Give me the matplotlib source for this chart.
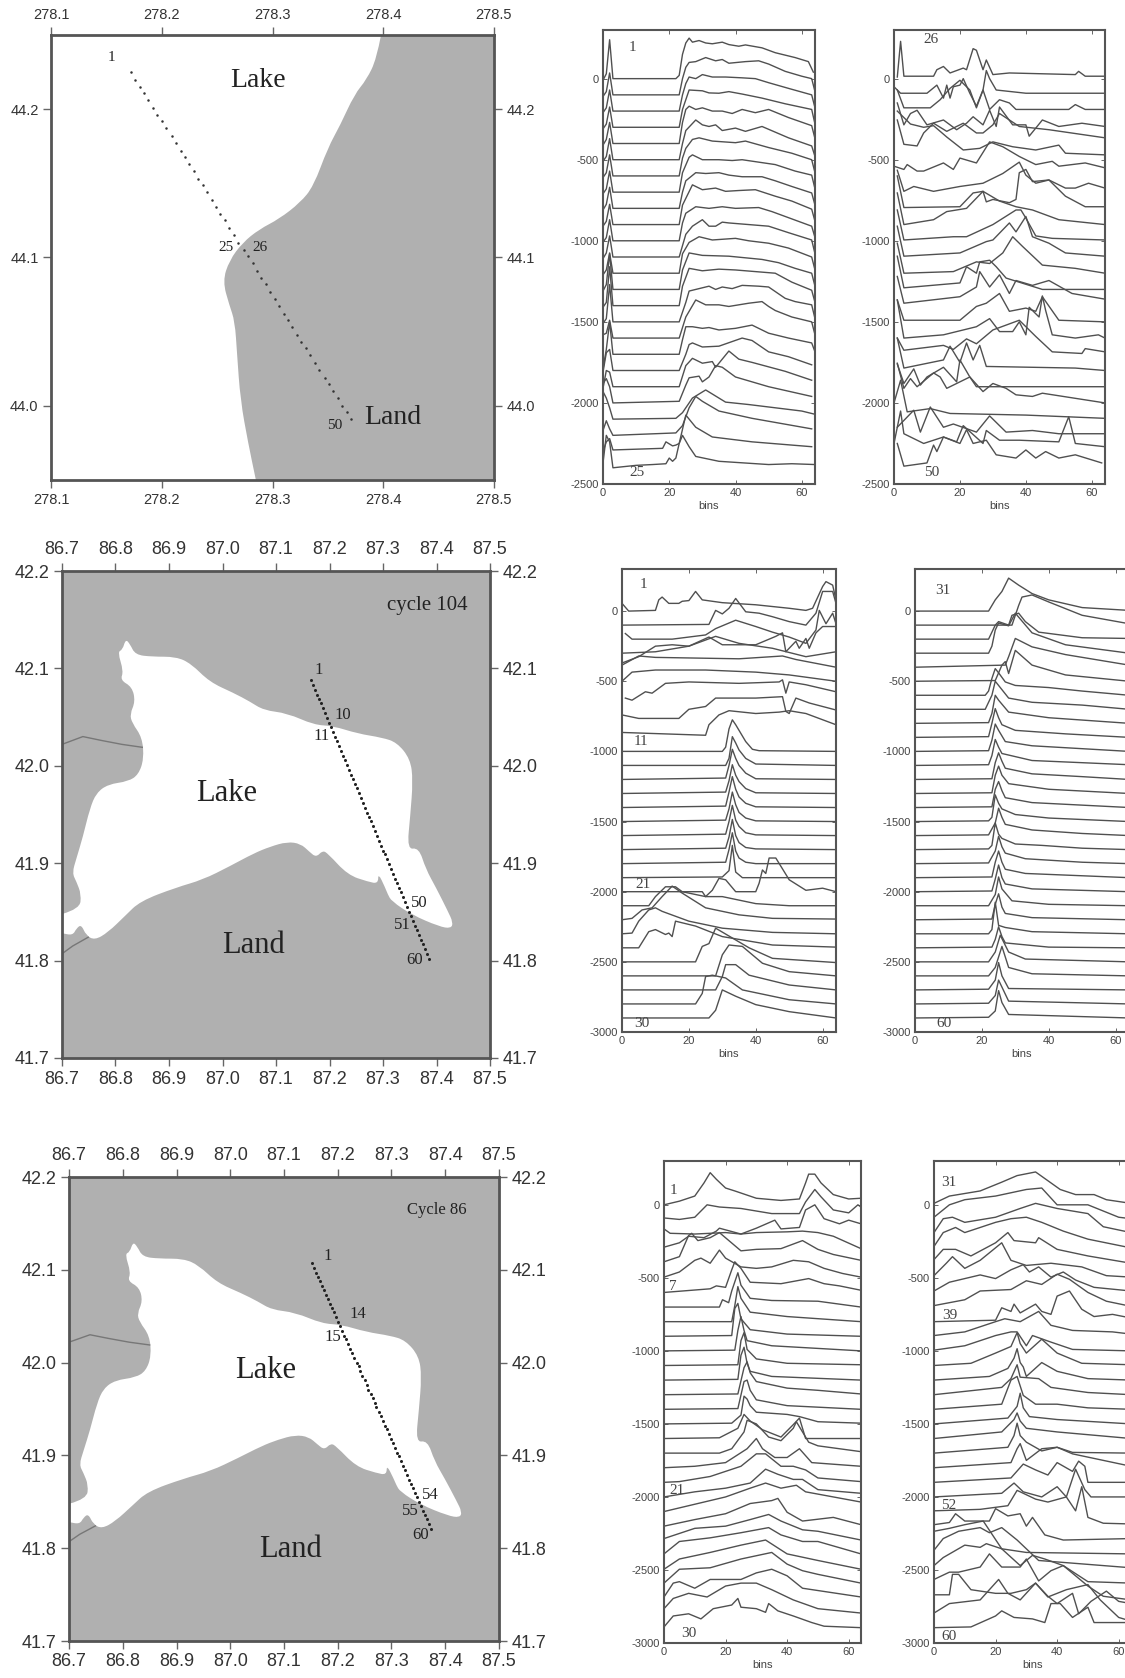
import matplotlib
matplotlib.use('Agg')
import matplotlib.pyplot as plt
from matplotlib.patches import PathPatch
from matplotlib.path import Path

W, H = 1125, 1678

# map 1 coast (lon, lat), land is east of it
coast1_lon = [278.398, 278.394, 278.385, 278.374, 278.361, 278.350, 278.337, 278.325, 278.306, 278.288,
              278.273, 278.261, 278.255, 278.261, 278.266, 278.268, 278.271, 278.278, 278.285]
coast1_lat = [44.250, 44.234, 44.220, 44.210, 44.189, 44.174, 44.148, 44.137, 44.126, 44.119,
              44.110, 44.098, 44.084, 44.068, 44.057, 44.035, 44.004, 43.975, 43.950]
track1_lon = [278.172, 278.176, 278.180, 278.184, 278.188, 278.192, 278.196, 278.200, 278.204, 278.209,
              278.213, 278.217, 278.221, 278.225, 278.229, 278.233, 278.237, 278.241, 278.245, 278.249,
              278.253, 278.257, 278.261, 278.265, 278.269, 278.274, 278.278, 278.282, 278.286, 278.290,
              278.294, 278.298, 278.302, 278.306, 278.310, 278.314, 278.318, 278.322, 278.326, 278.330,
              278.334, 278.338, 278.342, 278.347, 278.351, 278.355, 278.359, 278.363, 278.367, 278.371]
track1_lat = [44.225, 44.220, 44.215, 44.211, 44.206, 44.201, 44.196, 44.192, 44.187, 44.182,
              44.177, 44.172, 44.168, 44.163, 44.158, 44.153, 44.149, 44.144, 44.139, 44.134,
              44.129, 44.125, 44.120, 44.115, 44.110, 44.105, 44.101, 44.096, 44.091, 44.086,
              44.082, 44.077, 44.072, 44.067, 44.062, 44.058, 44.053, 44.048, 44.043, 44.039,
              44.034, 44.029, 44.024, 44.019, 44.015, 44.010, 44.005, 44.000, 43.996, 43.991]

# lake outline shared by map 2 and map 3
lake = [(86.701, 41.848), (86.733, 41.853), (86.736, 41.868), (86.727, 41.881), (86.719, 41.890), (86.727, 41.905),
        (86.739, 41.927), (86.752, 41.956), (86.764, 41.972), (86.786, 41.981), (86.824, 41.984), (86.843, 41.991),
        (86.853, 42.007), (86.850, 42.029), (86.831, 42.044), (86.827, 42.053), (86.837, 42.066), (86.831, 42.081),
        (86.809, 42.088), (86.815, 42.097), (86.804, 42.117), (86.813, 42.119), (86.819, 42.130), (86.827, 42.125),
        (86.837, 42.114), (86.868, 42.112), (86.913, 42.112), (86.941, 42.105), (86.976, 42.086), (87.020, 42.075),
        (87.051, 42.066), (87.077, 42.057), (87.121, 42.054), (87.171, 42.042), (87.206, 42.041), (87.253, 42.033),
        (87.298, 42.029), (87.326, 42.024), (87.351, 42.007), (87.356, 41.985), (87.351, 41.949), (87.345, 41.914),
        (87.367, 41.916), (87.380, 41.894), (87.399, 41.875), (87.421, 41.851), (87.431, 41.839), (87.427, 41.833),
        (87.405, 41.835), (87.354, 41.847), (87.316, 41.861), (87.309, 41.868), (87.304, 41.875), (87.291, 41.890),
        (87.291, 41.879), (87.272, 41.881), (87.234, 41.888), (87.197, 41.910), (87.187, 41.913), (87.175, 41.906),
        (87.162, 41.912), (87.146, 41.920), (87.121, 41.922), (87.089, 41.917), (87.058, 41.910), (87.014, 41.897),
        (86.963, 41.883), (86.913, 41.875), (86.846, 41.861), (86.818, 41.846), (86.786, 41.829), (86.761, 41.821),
        (86.745, 41.826), (86.736, 41.837), (86.727, 41.833), (86.720, 41.826), (86.701, 41.828)]
river_a = [(86.700, 42.022), (86.739, 42.030), (86.774, 42.026), (86.812, 42.022), (86.850, 42.019)]
river_b = [(86.700, 41.807), (86.720, 41.815), (86.749, 41.824)]

track2_lon = [87.165, 87.169, 87.172, 87.176, 87.180, 87.184, 87.187, 87.191, 87.195, 87.199,
              87.202, 87.206, 87.210, 87.214, 87.217, 87.221, 87.225, 87.229, 87.232, 87.236,
              87.240, 87.244, 87.247, 87.251, 87.255, 87.259, 87.262, 87.266, 87.270, 87.274,
              87.277, 87.281, 87.285, 87.289, 87.292, 87.296, 87.300, 87.304, 87.307, 87.311,
              87.315, 87.319, 87.322, 87.326, 87.330, 87.334, 87.337, 87.341, 87.345, 87.349,
              87.352, 87.356, 87.360, 87.364, 87.367, 87.371, 87.375, 87.379, 87.382, 87.386]
track2_lat = [42.088, 42.083, 42.078, 42.073, 42.069, 42.064, 42.059, 42.054, 42.049, 42.044,
              42.040, 42.035, 42.030, 42.025, 42.020, 42.015, 42.010, 42.006, 42.001, 41.996,
              41.991, 41.986, 41.981, 41.977, 41.972, 41.967, 41.962, 41.957, 41.952, 41.947,
              41.943, 41.938, 41.933, 41.928, 41.923, 41.918, 41.913, 41.909, 41.904, 41.899,
              41.894, 41.889, 41.884, 41.880, 41.875, 41.870, 41.865, 41.860, 41.855, 41.850,
              41.846, 41.841, 41.836, 41.831, 41.826, 41.821, 41.817, 41.812, 41.807, 41.802]
track3_lon = [87.152, 87.156, 87.160, 87.163, 87.167, 87.171, 87.175, 87.178, 87.182, 87.186,
              87.190, 87.193, 87.197, 87.201, 87.205, 87.208, 87.212, 87.216, 87.220, 87.223,
              87.227, 87.231, 87.235, 87.239, 87.242, 87.246, 87.250, 87.254, 87.257, 87.261,
              87.265, 87.269, 87.272, 87.276, 87.280, 87.284, 87.287, 87.291, 87.295, 87.299,
              87.303, 87.306, 87.310, 87.314, 87.318, 87.321, 87.325, 87.329, 87.333, 87.336,
              87.340, 87.344, 87.348, 87.351, 87.355, 87.359, 87.363, 87.366, 87.370, 87.374]
track3_lat = [42.107, 42.102, 42.097, 42.092, 42.088, 42.083, 42.078, 42.073, 42.068, 42.063,
              42.059, 42.054, 42.049, 42.044, 42.039, 42.034, 42.029, 42.025, 42.020, 42.015,
              42.010, 42.005, 42.000, 41.996, 41.991, 41.986, 41.981, 41.976, 41.971, 41.966,
              41.962, 41.957, 41.952, 41.947, 41.942, 41.937, 41.932, 41.928, 41.923, 41.918,
              41.913, 41.908, 41.903, 41.899, 41.894, 41.889, 41.884, 41.879, 41.874, 41.869,
              41.865, 41.860, 41.855, 41.850, 41.845, 41.840, 41.836, 41.831, 41.826, 41.821]

# waveforms: (bin, amplitude above the trace's own offset), trace k sits at -100*k
wave_a = [
    [(0, -10), (1, 30), (2, 240), (3, 0), (22, 0), (23, 20), (24, 150), (25, 220), (26, 250), (27, 225), (29, 235), (31, 220), (33, 215), (36, 225), (38, 210), (41, 200), (43, 208), (48, 190), (52, 160), (58, 130), (62, 105), (63.5, 40)],
    [(0, -10), (1, 20), (2, 135), (3, 0), (23, 0), (24, 100), (25, 170), (26, 200), (28, 205), (31, 230), (34, 210), (36, 218), (38, 195), (43, 205), (47, 210), (50, 190), (55, 145), (60, 115), (63, 100), (64, 20)],
    [(0, -10), (1, 20), (2, 130), (3, 0), (23, 0), (24, 100), (25, 170), (26, 210), (28, 200), (30, 225), (33, 210), (37, 210), (42, 205), (46, 200), (50, 175), (56, 140), (63, 100), (64, 20)],
    [(0, -10), (1, 20), (2, 125), (3, 0), (23, 0), (24, 110), (25, 170), (26, 230), (30, 225), (32, 212), (35, 210), (38, 220), (42, 205), (48, 180), (55, 145), (63, 110), (64, 20)],
    [(0, -10), (1, 25), (2, 130), (3, 0), (23, 0), (24, 130), (25, 210), (26, 230), (28, 210), (30, 220), (33, 200), (36, 200), (39, 185), (42, 210), (46, 190), (50, 210), (56, 160), (63, 110), (64, 30)],
    [(0, -10), (1, 20), (2, 130), (3, 0), (23, 0), (24, 100), (25, 180), (28, 245), (30, 215), (32, 205), (34, 215), (36, 180), (40, 195), (43, 175), (48, 205), (56, 135), (63, 85), (64, 20)],
    [(0, -10), (1, 20), (2, 130), (3, 0), (23, 0), (24, 110), (25, 170), (27, 225), (29, 235), (33, 215), (40, 205), (43, 215), (50, 175), (57, 140), (63, 100), (64, 20)],
    [(0, -10), (1, 20), (2, 130), (3, 0), (23, 0), (24, 120), (26, 215), (27, 230), (30, 200), (35, 200), (39, 195), (42, 200), (47, 185), (52, 170), (58, 130), (63, 105), (64, 20)],
    [(0, -10), (1, 25), (2, 130), (3, 0), (23, 0), (24, 100), (25, 170), (28, 220), (31, 215), (35, 220), (38, 205), (42, 195), (48, 195), (52, 170), (57, 135), (63, 95), (64, 20)],
    [(0, -10), (1, 20), (2, 125), (3, 0), (23, 0), (24, 120), (27, 245), (30, 215), (34, 225), (37, 205), (41, 210), (46, 215), (52, 175), (57, 145), (63, 95), (64, 20)],
    [(0, -10), (1, 20), (2, 130), (3, 0), (23, 0), (24, 110), (25, 170), (28, 210), (32, 200), (36, 210), (40, 200), (47, 205), (51, 180), (55, 150), (63, 90), (64, 20)],
    [(0, -10), (1, 25), (2, 130), (3, 0), (23, 0), (25, 140), (27, 190), (30, 230), (32, 190), (34, 190), (36, 215), (38, 210), (44, 200), (50, 190), (56, 150), (63, 105), (64, 20)],
    [(0, -10), (1, 20), (2, 125), (3, 0), (23, 0), (24, 120), (26, 190), (29, 225), (33, 205), (40, 215), (44, 200), (50, 185), (56, 155), (63, 100), (64, 20)],
    [(0, -10), (1, 30), (2, 220), (3, 0), (23, 0), (24, 120), (26, 225), (30, 210), (38, 205), (43, 195), (48, 185), (53, 165), (58, 130), (63, 100), (64, 20)],
    [(0, -10), (1, 20), (2, 240), (3, 0), (23, 0), (24, 120), (26, 230), (30, 215), (35, 225), (40, 220), (46, 210), (52, 200), (57, 145), (63, 95), (64, 20)],
    [(0, -10), (1, 20), (2, 230), (3, 0), (23, 0), (25, 120), (26, 190), (32, 220), (34, 200), (36, 215), (39, 205), (42, 225), (47, 220), (50, 215), (55, 145), (58, 125), (63, 105), (64, 20)],
    [(0, 20), (1, 30), (2, 110), (3, 0), (23, 0), (25, 130), (28, 235), (31, 205), (35, 205), (38, 195), (44, 215), (48, 225), (50, 195), (52, 170), (57, 130), (63, 100), (64, 20)],
    [(0, -90), (1, 30), (2, 200), (3, 0), (23, 0), (24, 90), (25, 170), (27, 170), (30, 160), (32, 165), (35, 150), (40, 160), (45, 180), (50, 130), (56, 100), (63, 70), (64, 15)],
    [(0, -10), (1, 110), (2, 130), (3, 0), (23, 0), (25, 100), (26, 160), (27, 170), (30, 145), (35, 150), (42, 200), (45, 185), (50, 115), (56, 85), (63, 35)],
    [(0, -10), (1, 100), (2, 90), (3, 0), (23, 0), (25, 130), (27, 175), (30, 145), (33, 155), (34, 120), (36, 170), (38, 220), (41, 170), (45, 150), (55, 95), (63, 40)],
    [(0, 120), (1, 150), (2, 100), (3, 0), (23, 10), (25, 110), (26, 155), (29, 165), (30, 130), (32, 160), (34, 230), (36, 220), (40, 160), (50, 100), (63, 40)],
    [(0, 170), (1, 130), (2, 70), (3, 0), (22, 5), (24, 40), (27, 130), (31, 180), (35, 130), (37, 105), (44, 90), (60, 50), (64, 30)],
    [(0, 30), (1, 90), (2, 40), (3, 0), (22, 15), (24, 60), (26, 170), (28, 240), (30, 210), (35, 150), (45, 105), (63, 40)],
    [(0, 0), (1, 60), (2, 80), (3, 10), (18, 20), (19, 60), (21, 35), (22, 40), (23, 50), (25, 225), (28, 150), (33, 90), (45, 60), (63, 30)],
    [(0, 30), (1, 200), (2, 160), (3, 0), (10, 15), (15, 20), (19, 25), (20, 60), (21, 40), (22, 60), (23, 150), (24, 200), (26, 130), (28, 70), (35, 40), (50, 20), (57, 25), (64, 20)],
]
wave_b = [
    [(1, 10), (2, 230), (3, 15), (12, 15), (13, 55), (15, 75), (17, 35), (21, 65), (22, 55), (24, 185), (25, 175), (27, 55), (28, 115), (30, 25), (35, 35), (55, 25), (56, 45), (58, 15), (64, 15)],
    [(0, 50), (2, 10), (10, 10), (13, 60), (15, -20), (16, 60), (17, -20), (18, 50), (20, 60), (21, 100), (23, 10), (25, -70), (27, 30), (28, 150), (29, 100), (31, 30), (40, 10), (64, 10)],
    [(1, 130), (3, 20), (11, 20), (14, 70), (17, 140), (20, 190), (23, 130), (25, 20), (27, 130), (29, 10), (32, 70), (35, 50), (37, 10), (53, 10), (55, 40), (58, 10), (64, 10)],
    [(1, 150), (3, 15), (5, 85), (7, 105), (10, 15), (15, 45), (19, -15), (22, 25), (24, 65), (27, 15), (29, 105), (31, 5), (32, 125), (36, 15), (40, 15), (41, -55), (45, 45), (50, 5), (57, 25), (64, 5)],
    [(1, 145), (3, -5), (7, -15), (9, 65), (12, 125), (16, 75), (21, 125), (25, 65), (27, 65), (30, 115), (32, 185), (38, 105), (47, 85), (64, 35)],
    [(1, 300), (5, 220), (9, 200), (12, 210), (16, 140), (21, 60), (26, 70), (29, 100), (30, 110), (36, 80), (43, 60), (50, 90), (52, 40), (64, 30)],
    [(0, 60), (3, 40), (4, 70), (7, 30), (9, 30), (15, 80), (18, 40), (20, 110), (25, 80), (29, 210), (33, 180), (38, 120), (43, 70), (48, 90), (50, 60), (58, 80), (62, 60), (64, 50)],
    [(1, 135), (3, 5), (6, 35), (12, 5), (20, 35), (27, 55), (33, 115), (38, 185), (40, 105), (43, 55), (47, 75), (52, 25), (55, 25), (59, 55), (64, 25)],
    [(1, 200), (3, 5), (20, 10), (24, 95), (27, 105), (28, 40), (30, 55), (35, 35), (37, 55), (38, 220), (40, 240), (42, 165), (47, 175), (52, 75), (58, 10), (64, 10)],
    [(1, 195), (3, 0), (12, 30), (16, 80), (22, 100), (27, 205), (32, 145), (37, 110), (42, 90), (50, 30), (64, 0)],
    [(1, 190), (3, 5), (18, 25), (22, 25), (30, 100), (37, 190), (38.5, 190), (40, 140), (43, 30), (48, 15), (64, 5)],
    [(1, 190), (3, 5), (20, 25), (28, 95), (30, 105), (35, 210), (37, 155), (40, 250), (42, 125), (47, 85), (52, 25), (64, 5)],
    [(1, 185), (3, 0), (18, 10), (25, 70), (29, 60), (33, 125), (36, 225), (39, 165), (45, 50), (55, 30), (64, 0)],
    [(1, 205), (3, 10), (20, 40), (22, 140), (25, 100), (26, 170), (29, 180), (31, 140), (34, 70), (45, 0), (64, 0)],
    [(1, 180), (3, 15), (20, 55), (25, 115), (26, 210), (29, 115), (32, 190), (35, 75), (37, 155), (42, 125), (47, 155), (54, 75), (64, 40)],
    [(1, 135), (3, 10), (20, 10), (25, 95), (28, 115), (32, 175), (35, 65), (40, 85), (43, 65), (45, 155), (50, 10), (64, 0)],
    [(1, 235), (3, 0), (15, 20), (25, 70), (29, 120), (32, 40), (36, 40), (38, 100), (40, 20), (41, 190), (44, 130), (45, 260), (46, 170), (48, 20), (55, 0), (62, 20), (64, 0)],
    [(1, 100), (3, 25), (15, 55), (18, 30), (22, 95), (25, 65), (30, 150), (38, 210), (43, 110), (48, 15), (57, 5), (58, 35), (64, 15)],
    [(1, 200), (3, 15), (15, 65), (17, 150), (20, 50), (22, 170), (24, 65), (26, 155), (28, 25), (55, 15), (64, 0)],
    [(1, 140), (3, 20), (6, 110), (8, 10), (10, 60), (15, 120), (19, 30), (20, 165), (23, 60), (25, 0), (64, 0)],
    [(1, 245), (3, 90), (5, 150), (7, 100), (12, 185), (14, 160), (16, 90), (23, 160), (27, 70), (30, 120), (34, 90), (37, 50), (42, 40), (45, 60), (64, 0)],
    [(0, 100), (2, 240), (4, 45), (11, 65), (17, 35), (40, 25), (64, 5)],
    [(1, 50), (6, 155), (8, 20), (11, 175), (15, 50), (18, 70), (25, 20), (29, 120), (34, 20), (42, 30), (50, 10), (64, 10)],
    [(0, 50), (2, 250), (3, 110), (9, 50), (15, 90), (19, 60), (21, 160), (27, 50), (28, 130), (32, 70), (38, 70), (50, 60), (53, 215), (55, 50), (64, 30)],
    [(1, 150), (3, 10), (10, 30), (12, 140), (13, 100), (15, 190), (20, 150), (22, 235), (24, 150), (28, 170), (31, 80), (37, 60), (40, 110), (43, 60), (46, 100), (50, 60), (55, 80), (63, 30)],
]
wave_c = [
    [(0, 55), (2, 0), (10, 5), (11, 80), (12, 100), (14, 55), (17, 55), (18, 70), (20, 75), (22, 140), (24, 80), (30, 60), (40, 45), (50, 20), (55, 5), (57, 20), (60, 175), (61, 210), (63, 185), (64, 80)],
    [(0, 0), (26, 5), (28, 105), (30, 80), (32, 120), (34, 190), (37, 95), (41, 85), (45, 60), (50, 25), (55, 0), (58, 85), (60, 240), (63, 240), (64, 155)],
    [(1, 40), (3, 0), (15, 0), (25, 30), (28, 75), (34, 135), (40, 90), (45, 50), (50, 15), (55, -30), (58, 65), (59, 205), (61, 110), (63, 185), (64, 110)],
    [(0, 0), (10, 10), (20, 50), (26, 115), (30, 60), (37, 60), (40, 60), (46, 120), (48, 145), (49, 10), (52, 85), (53, 35), (55, 105), (56, 35), (58, 145), (60, 190), (64, 190)],
    [(0, 30), (5, 75), (10, 150), (15, 160), (20, 150), (28, 220), (35, 170), (45, 135), (55, 75), (64, 110)],
    [(0, 115), (5, 180), (10, 170), (35, 160), (48, 180), (52, 155), (64, 100)],
    [(0, 100), (3, 165), (10, 180), (25, 180), (40, 165), (50, 145), (64, 100)],
    [(1, 80), (3, 65), (7, 125), (9, 115), (13, 185), (20, 195), (35, 185), (47, 195), (48, 210), (49, 115), (50, 195), (55, 175), (64, 125)],
    [(0, 60), (5, 35), (17, 35), (20, 100), (25, 120), (28, 180), (30, 180), (40, 180), (48, 190), (49, 85), (50, 70), (52, 180), (56, 145), (64, 95)],
    [(0, 35), (25, 15), (26, 90), (29, 160), (32, 190), (40, 170), (47, 180), (50, 190), (55, 170), (64, 90)],
    [(0, 0), (30, 0), (31, 30), (32, 160), (33, 225), (34, 190), (35, 150), (37, 70), (39, 15), (41, 5), (64, 0)],
    [(0, 0), (31, 0), (32, 50), (33, 205), (34, 160), (35, 110), (37, 50), (40, 10), (64, 0)],
    [(0, 0), (31, 10), (32, 100), (33, 215), (34, 150), (35, 100), (37, 45), (40, 5), (64, 0)],
    [(0, 0), (31, 10), (32, 90), (33, 205), (34, 130), (35, 85), (37, 35), (40, 5), (64, 0)],
    [(0, 0), (31, 10), (32, 110), (33, 220), (34, 130), (35, 75), (37, 30), (40, 5), (64, 0)],
    [(0, 0), (31, 10), (32, 90), (33, 210), (34, 120), (35, 65), (37, 25), (40, 5), (64, 0)],
    [(0, 0), (31, 10), (32, 100), (33, 215), (34, 110), (35, 65), (37, 20), (40, 5), (64, 0)],
    [(0, 0), (31, 10), (32, 90), (33, 215), (34, 100), (35, 50), (37, 15), (40, 5), (64, 0)],
    [(0, 0), (31, 10), (32, 100), (33, 220), (34, 90), (35, 40), (37, 10), (40, 0), (64, 0)],
    [(0, 0), (30, 5), (32, 50), (33, 230), (34, 40), (36, 0), (64, 0)],
    [(0, 0), (24, 0), (25, -35), (27, 10), (29, 95), (31, 85), (34, 0), (40, 0), (41, 60), (42, 155), (43, 130), (44, 240), (46, 240), (50, 85), (55, 10), (60, 25), (64, 0)],
    [(0, 0), (8, 0), (10, 65), (13, 135), (16, 135), (18, 100), (25, 65), (30, 65), (40, 15), (50, 0), (64, 0)],
    [(0, 0), (3, 10), (6, 70), (9, 85), (12, 165), (15, 240), (18, 190), (25, 85), (35, 35), (45, 10), (64, 5)],
    [(0, 0), (3, 5), (5, 90), (8, 170), (10, 185), (12, 160), (20, 90), (30, 40), (45, 10), (64, 0)],
    [(0, 0), (5, 0), (8, 115), (10, 130), (13, 95), (14, 105), (15, 80), (16, 190), (22, 155), (30, 80), (45, 20), (64, 5)],
    [(0, 0), (22, 0), (24, 110), (26, 130), (28, 240), (33, 170), (38, 100), (45, 25), (64, -5)],
    [(0, 0), (28, 0), (30, 150), (32, 220), (36, 210), (42, 90), (50, 30), (64, 0)],
    [(0, 0), (28, 0), (30, 95), (31, 180), (34, 180), (38, 105), (50, 35), (64, 0)],
    [(0, 0), (22, 0), (24, 75), (25, 195), (27, 205), (29, 195), (31, 185), (36, 100), (50, 30), (64, 0)],
    [(0, 0), (26, 0), (28, 55), (30, 200), (34, 155), (40, 95), (50, 45), (64, 0)],
]
wave_d = [
    [(0, 0), (22, 0), (24, 80), (26, 140), (28, 235), (31, 185), (35, 125), (40, 80), (50, 25), (64, 5)],
    [(0, 0), (29, 0), (31, 140), (32, 200), (35, 215), (40, 165), (50, 70), (64, 10)],
    [(0, 0), (22, 0), (24, 100), (25, 125), (28, 100), (29, 170), (31, 185), (33, 125), (37, 50), (50, 10), (64, 5)],
    [(0, 0), (22, 0), (23, 50), (24, 165), (25, 215), (28, 195), (30, 285), (35, 145), (45, 60), (64, 0)],
    [(0, 0), (27, 15), (28, 75), (30, 205), (35, 145), (45, 90), (64, 15)],
    [(0, 0), (24, 5), (26, 115), (27, 140), (28, 55), (30, 220), (35, 115), (45, 45), (64, 0)],
    [(0, 0), (21, 0), (22, 30), (23, 120), (24, 190), (25, 160), (27, 95), (30, 70), (40, 55), (50, 30), (64, 0)],
    [(0, 0), (21, 0), (23, 100), (24, 200), (25, 170), (28, 80), (35, 50), (50, 30), (64, 0)],
    [(0, 0), (22, 5), (23, 70), (24, 200), (25, 165), (28, 80), (40, 40), (64, 0)],
    [(0, 0), (22, 5), (23, 100), (24, 205), (25, 140), (26, 90), (30, 50), (45, 25), (64, 0)],
    [(0, 0), (22, 5), (23, 80), (24, 195), (25, 150), (27, 70), (35, 40), (64, 0)],
    [(0, 0), (22, 5), (23, 70), (24, 185), (25, 130), (26, 85), (35, 35), (64, 5)],
    [(0, 0), (23, 5), (24, 120), (25, 190), (26, 130), (27, 80), (35, 40), (50, 20), (64, 0)],
    [(0, 0), (23, 5), (24, 130), (25, 195), (26, 130), (28, 70), (40, 30), (64, 0)],
    [(0, 0), (23, 5), (24, 130), (25, 185), (26, 120), (27, 70), (35, 35), (64, 0)],
    [(0, 0), (22, 5), (23, 30), (24, 190), (25, 130), (26, 90), (30, 50), (40, 25), (64, 0)],
    [(0, 0), (22, 5), (24, 90), (25, 195), (26, 130), (27, 80), (35, 40), (50, 15), (64, 0)],
    [(0, 0), (22, 5), (23, 30), (24, 190), (25, 110), (26, 80), (30, 40), (38, 30), (50, 10), (64, 0)],
    [(0, 0), (22, 5), (24, 90), (25, 195), (26, 120), (27, 75), (33, 35), (50, 10), (64, 0)],
    [(0, 0), (23, 5), (24, 110), (25, 190), (26, 110), (27, 60), (33, 30), (64, 0)],
    [(0, 0), (23, 5), (24, 90), (25, 190), (26, 100), (27, 55), (35, 20), (64, 0)],
    [(0, 0), (22, 0), (24, 80), (25, 205), (26, 120), (29, 35), (40, 10), (64, 0)],
    [(0, 0), (23, 5), (24, 110), (25, 185), (26, 90), (27, 45), (35, 15), (64, 0)],
    [(0, 0), (22, 0), (23, 30), (24, 225), (25, 60), (27, 45), (35, 15), (64, 0)],
    [(0, 0), (23, 5), (24, 60), (25, 150), (26, 80), (27, 35), (40, 5), (64, 0)],
    [(0, 0), (22, 0), (24, 70), (25.5, 190), (28, 70), (33, 20), (64, 0)],
    [(0, 0), (22, 0), (24, 60), (26, 210), (28, 60), (35, 15), (64, 0)],
    [(0, 0), (22, 5), (24, 70), (25, 195), (26, 100), (28, 10), (64, 0)],
    [(0, 0), (22, 5), (24, 60), (25, 170), (26, 120), (28, 20), (64, 0)],
    [(0, 0), (22, 5), (24, 50), (25, 195), (26, 110), (28, 25), (64, 0)],
]
wave_e = [
    [(0, 0), (5, 25), (10, 60), (13, 150), (15, 220), (17, 175), (20, 115), (23, 95), (30, 45), (38, 30), (44, 40), (46, 150), (47, 210), (49, 210), (51, 150), (55, 70), (60, 40), (64, 45)],
    [(0, 10), (5, 0), (10, 15), (14, 100), (18, 85), (25, 75), (35, 40), (44, 40), (46, 120), (49, 205), (51, 155), (55, 65), (60, 45), (63, 100), (64, 85)],
    [(0, 35), (2, 5), (10, 0), (20, 10), (25, 0), (30, 40), (36, 95), (38, 35), (44, 45), (46, 165), (49, 200), (52, 105), (57, 70), (60, 95), (64, 70)],
    [(0, 10), (5, 40), (8, 85), (13, 75), (17, 120), (18, 140), (25, 100), (30, 110), (40, 115), (45, 120), (50, 110), (55, 85), (64, 0)],
    [(0, 10), (5, 45), (8, 190), (9, 205), (11, 155), (15, 175), (18, 210), (25, 85), (30, 95), (38, 100), (45, 155), (50, 95), (55, 60), (64, 20)],
    [(0, 5), (5, 40), (10, 120), (12, 135), (15, 100), (18, 190), (20, 135), (25, 75), (30, 65), (35, 75), (42, 120), (47, 110), (52, 65), (58, 30), (64, 5)],
    [(0, 0), (15, 25), (17, 45), (20, 35), (22, 155), (23, 210), (25, 165), (28, 70), (38, 60), (47, 95), (52, 60), (57, 45), (64, 15)],
    [(0, 0), (18, 0), (19, 50), (21, 30), (22, 110), (24, 235), (25, 150), (28, 60), (35, 45), (50, 40), (64, 0)],
    [(0, 0), (22, 0), (23, 110), (24, 240), (25, 160), (28, 65), (40, 35), (64, 0)],
    [(0, 0), (22, 5), (23, 190), (24, 225), (25, 120), (28, 45), (40, 15), (64, 0)],
    [(0, 0), (23, 5), (24, 140), (25, 235), (26, 140), (27, 70), (35, 35), (64, 0)],
    [(0, 0), (24, 5), (25, 170), (26, 225), (27, 110), (30, 45), (40, 15), (64, 5)],
    [(0, 0), (24, 5), (25, 170), (26, 225), (27, 115), (28, 60), (35, 25), (64, 0)],
    [(0, 0), (24, 5), (26, 185), (27, 225), (28, 150), (30, 90), (40, 45), (50, 30), (64, 5)],
    [(0, 0), (24, 5), (26, 190), (27, 200), (28, 130), (30, 65), (40, 25), (64, 0)],
    [(0, 0), (22, 5), (25, 60), (26, 190), (27, 170), (28, 125), (30, 80), (40, 65), (44, 50), (50, 15), (64, 5)],
    [(0, 0), (18, 5), (24, 70), (26, 165), (28, 120), (32, 60), (35, 35), (38, 10), (42, 95), (44, 140), (46, 0), (50, 0), (64, 0)],
    [(0, 0), (18, 0), (22, 30), (26, 145), (27, 225), (30, 200), (34, 110), (38, 85), (42, 170), (43, 215), (45, 145), (47, 75), (50, 50), (64, 10)],
    [(0, 0), (10, 10), (20, 35), (27, 130), (30, 200), (32, 130), (36, 70), (40, 70), (44, 130), (48, 35), (64, 10)],
    [(0, 0), (5, 5), (15, 40), (25, 110), (30, 195), (33, 195), (38, 110), (42, 110), (46, 85), (50, 30), (64, 5)],
    [(0, 0), (10, 35), (20, 60), (28, 95), (33, 190), (37, 155), (42, 120), (45, 120), (50, 50), (64, 25)],
    [(0, 0), (10, 50), (20, 100), (28, 160), (33, 195), (38, 160), (43, 180), (46, 135), (55, 100), (64, 65)],
    [(0, 0), (10, 45), (20, 85), (28, 155), (35, 175), (37, 190), (40, 95), (45, 35), (55, 60), (64, 10)],
    [(0, 15), (10, 85), (20, 100), (28, 145), (34, 180), (38, 135), (45, 75), (50, 65), (64, 5)],
    [(0, 10), (5, 95), (15, 120), (25, 155), (34, 190), (38, 140), (45, 95), (50, 95), (64, 10)],
    [(0, 5), (5, 75), (15, 120), (25, 170), (33, 205), (40, 110), (50, 65), (64, 5)],
    [(0, 10), (5, 105), (15, 115), (25, 175), (35, 220), (40, 140), (45, 95), (50, 70), (64, 10)],
    [(0, 15), (3, 110), (5, 120), (10, 75), (15, 135), (25, 135), (30, 180), (35, 205), (40, 160), (45, 75), (64, 15)],
    [(0, 35), (3, 105), (8, 140), (14, 115), (20, 190), (25, 210), (30, 210), (35, 165), (42, 95), (50, 35), (64, 5)],
    [(0, 10), (3, 85), (8, 100), (12, 65), (16, 135), (22, 160), (24, 205), (25, 145), (30, 135), (33, 110), (34, 170), (37, 120), (42, 85), (48, 40), (52, 15), (64, 5)],
]
wave_f = [
    [(0, 10), (5, 60), (15, 95), (22, 155), (27, 200), (33, 225), (37, 165), (41, 105), (46, 70), (52, 70), (56, 35), (64, 10)],
    [(0, 15), (5, 100), (10, 135), (20, 160), (30, 205), (35, 215), (40, 100), (50, 100), (60, 15), (64, 5)],
    [(0, 10), (3, 105), (6, 115), (10, 80), (20, 115), (28, 175), (33, 210), (40, 175), (50, 140), (55, 50), (64, 10)],
    [(0, 15), (3, 110), (7, 145), (10, 110), (20, 180), (25, 205), (30, 215), (35, 180), (42, 120), (50, 65), (64, 5)],
    [(0, 25), (3, 95), (7, 95), (12, 50), (20, 140), (24, 210), (26, 155), (33, 140), (34, 175), (40, 95), (50, 50), (64, 0)],
    [(0, 15), (4, 100), (6, 145), (10, 65), (15, 120), (22, 240), (25, 120), (30, 85), (38, 100), (48, 75), (56, 15), (64, 5)],
    [(0, 10), (5, 70), (15, 120), (20, 95), (25, 155), (29, 190), (31, 140), (34, 175), (38, 105), (42, 140), (46, 85), (52, 35), (64, 10)],
    [(0, 10), (10, 50), (15, 110), (25, 120), (30, 180), (35, 155), (40, 225), (44, 190), (50, 100), (56, 40), (64, 5)],
    [(0, 0), (20, 10), (22, 95), (25, 70), (26, 120), (28, 60), (33, 120), (35, 70), (38, 50), (40, 175), (44, 210), (48, 85), (52, 35), (58, 50), (64, 25)],
    [(0, 5), (10, 30), (20, 100), (23, 120), (28, 100), (34, 170), (38, 75), (45, 40), (58, 30), (64, 15)],
    [(0, 5), (10, 35), (20, 105), (25, 130), (27, 130), (30, 35), (32, 105), (38, 60), (45, 10), (64, 0)],
    [(0, 0), (12, 15), (20, 85), (25, 130), (27, 225), (28, 150), (30, 85), (35, 180), (40, 85), (48, 15), (64, 5)],
    [(0, 0), (18, 25), (24, 80), (26, 150), (27, 215), (28, 120), (29, 90), (30, 25), (35, 120), (40, 60), (50, 10), (64, 0)],
    [(0, 0), (22, 50), (25, 110), (27, 205), (28, 120), (34, 110), (38, 50), (50, 15), (64, 0)],
    [(0, 0), (22, 35), (25, 200), (27, 225), (29, 95), (33, 35), (40, 35), (50, 10), (64, 0)],
    [(0, 0), (24, 40), (27, 120), (28, 210), (29, 110), (31, 50), (40, 30), (64, 0)],
    [(0, 0), (22, 45), (26, 130), (27, 175), (28, 120), (30, 70), (40, 45), (64, 0)],
    [(0, 0), (24, 40), (26, 120), (27, 205), (28, 120), (30, 75), (35, 15), (40, 40), (45, 5), (64, 0)],
    [(0, 0), (25, 35), (27, 130), (28, 165), (30, 50), (35, 130), (40, 140), (45, 95), (64, 10)],
    [(0, 0), (25, 30), (29, 125), (33, 85), (37, 50), (40, 135), (45, 75), (47, 145), (49, 110), (50, 0), (64, 0)],
    [(0, 0), (22, 25), (26, 95), (29, 35), (35, 0), (40, 70), (43, 0), (46, 190), (49, 50), (51, 0), (64, 0)],
    [(0, 5), (15, 15), (24, 40), (27, 145), (33, 85), (37, 65), (43, 100), (46, 5), (48, 170), (50, -40), (55, -80), (64, -85)],
    [(0, 10), (5, 25), (7, 85), (10, 35), (18, 35), (20, 120), (24, 70), (28, 85), (30, 0), (32, 60), (36, -60), (42, -95), (64, -85)],
    [(0, 65), (5, 85), (10, 110), (16, 135), (19, 40), (22, -55), (30, -80), (64, -90)],
    [(0, 35), (3, 115), (8, 165), (15, 190), (18, 155), (22, 190), (27, 105), (34, -35), (64, -85)],
    [(0, 30), (3, 85), (10, 170), (15, 155), (17, 180), (22, 145), (28, 30), (32, 100), (36, 75), (42, 30), (50, -80), (64, -90)],
    [(0, 35), (5, 85), (8, 85), (15, 120), (18, 210), (22, 120), (28, 120), (30, 175), (34, 25), (38, 95), (42, 130), (50, -10), (55, -80), (64, -105)],
    [(0, 30), (5, 30), (6, 170), (8, 170), (12, 65), (20, 40), (25, 40), (30, 65), (33, 110), (37, 15), (43, 65), (50, 100), (54, -5), (60, -125), (64, -150)],
    [(0, 5), (5, 70), (15, 95), (21, 235), (24, 140), (28, 95), (33, 210), (37, 120), (40, 70), (45, 140), (47, 0), (51, 85), (56, 155), (60, 85), (64, 70)],
    [(0, 5), (12, 10), (20, 85), (22, 120), (26, 75), (32, 65), (36, 40), (38, 170), (41, 170), (45, 75), (50, 145), (52, 40), (60, 40), (64, 40)],
]

# labels as (x, y, text)
labels_a = [(9, 193, '1'), (10.2, -2430, '25')]
labels_b = [(11.3, 240, '26'), (11.3, -2430, '50')]
labels_c = [(6.3, 190, '1'), (5.7, -932, '11'), (6.3, -1950, '21'), (6, -2940, '30')]
labels_d = [(8.3, 150, '31'), (8.7, -2940, '60')]
labels_e = [(3, 100, '1'), (3, -560, '7'), (4.1, -1958, '21'), (8, -2934, '30')]
labels_f = [(4.7, 153, '31'), (5.2, -758, '39'), (4.7, -2059, '52'), (5, -2958, '60')]

map1_labels = [(278.155, 44.235, '1', 11), (278.258, 44.107, '25', 11), (278.289, 44.107, '26', 11), (278.356, 43.987, '50', 11),
               (278.287, 44.219, 'Lake', 20), (278.409, 43.992, 'Land', 20)]
map2_labels = [(87.179, 42.098, '1', 12), (87.225, 42.052, '10', 12), (87.186, 42.031, '11', 12), (87.367, 41.859, '50', 12),
               (87.337, 41.837, '51', 12), (87.359, 41.801, '60', 12), (87.007, 41.972, 'Lake', 22), (87.058, 41.816, 'Land', 22),
               (87.383, 42.165, 'cycle 104', 15)]
map3_labels = [(87.181, 42.115, '1', 12), (87.238, 42.052, '14', 12), (87.190, 42.028, '15', 12), (87.372, 41.857, '54', 12),
               (87.335, 41.840, '55', 12), (87.354, 41.814, '60', 12), (87.065, 41.992, 'Lake', 22), (87.112, 41.799, 'Land', 22),
               (87.384, 42.164, 'Cycle 86', 12)]

lon_ticks1 = [278.1, 278.2, 278.3, 278.4, 278.5]
lat_ticks1 = [44.0, 44.1, 44.2]
lon_ticks2 = [86.7, 86.8, 86.9, 87.0, 87.1, 87.2, 87.3, 87.4, 87.5]
lat_ticks2 = [41.7, 41.8, 41.9, 42.0, 42.1, 42.2]
bin_ticks = [0, 20, 40, 60]
amp_ticks_2500 = [0, -500, -1000, -1500, -2000, -2500]
amp_ticks_3000 = [0, -500, -1000, -1500, -2000, -2500, -3000]

LAND = '#b0b0b0'
INK = '#505050'


def box(left, top, right, bottom):
    # axes placed from picture pixels
    return fig.add_axes([left / W, 1 - bottom / H, (right - left) / W, (bottom - top) / H])


def round_outline(points, tail):
    # quadratic curves with the read points as controls, so the coast has no corners
    verts = [points[0]]
    codes = [Path.MOVETO]
    for i in range(1, len(points) - 1):
        mid = ((points[i][0] + points[i + 1][0]) / 2, (points[i][1] + points[i + 1][1]) / 2)
        verts += [points[i], mid]
        codes += [Path.CURVE3, Path.CURVE3]
    for p in [points[-1]] + tail:
        verts.append(p)
        codes.append(Path.LINETO)
    verts.append(points[0])
    codes.append(Path.CLOSEPOLY)
    return Path(verts, codes)


def style_map(ax, xticks, yticks, size, family):
    ax.set_xticks(xticks)
    ax.set_yticks(yticks)
    ax.set_xticklabels(['%.1f' % t for t in xticks])
    ax.set_yticklabels(['%.1f' % t for t in yticks])
    ax.tick_params(top=True, right=True, labeltop=True, labelright=True, direction='out', length=6, width=1,
                   color='#666666', labelsize=size, labelcolor='#333333', pad=3)
    for s in ax.spines.values():
        s.set_linewidth(2)
        s.set_color('#555555')
    for t in ax.get_xticklabels() + ax.get_yticklabels():
        t.set_family(family)


def put_labels(ax, items):
    for x, y, text, size in items:
        ax.text(x, y, text, family='Liberation Serif', fontsize=size, ha='center', va='center', color='#222222')


def draw_lake_map(ax, track_lon, track_lat, items):
    ax.set_facecolor(LAND)
    ax.add_patch(PathPatch(round_outline(lake, []), facecolor='white', edgecolor='none'))
    ax.plot([p[0] for p in river_a], [p[1] for p in river_a], color='#777777', lw=1)
    ax.plot([p[0] for p in river_b], [p[1] for p in river_b], color='#777777', lw=1)
    ax.plot(track_lon, track_lat, ls='none', marker='o', ms=2.2, color='#222222', mew=0)
    ax.set_xlim(86.7, 87.5)
    ax.set_ylim(41.7, 42.2)
    style_map(ax, lon_ticks2, lat_ticks2, 13, ['Liberation Sans Narrow', 'Liberation Sans'])
    put_labels(ax, items)


def draw_waves(ax, traces, labels, ymin, yticks):
    for k, trace in enumerate(traces):
        ax.plot([p[0] for p in trace], [p[1] - 100 * k for p in trace], color=INK, lw=1.0)
    ax.set_xlim(0, 64)
    ax.set_ylim(ymin, 300)
    ax.set_xticks(bin_ticks)
    ax.set_yticks(yticks)
    ax.set_yticklabels(['%d' % t for t in yticks])
    ax.tick_params(direction='in', top=True, right=True, length=3, width=0.7, color='#666666',
                   labelsize=8, labelcolor='#444444', pad=3)
    ax.set_xlabel('bins', fontsize=8, color='#444444', labelpad=2)
    for s in ax.spines.values():
        s.set_linewidth(1.5)
        s.set_color('#555555')
    for x, y, text in labels:
        ax.text(x, y, text, family='Liberation Serif', fontsize=11, ha='center', va='center', color='#444444')


plt.rcParams['font.family'] = ['Liberation Sans', 'DejaVu Sans']
fig = plt.figure(figsize=(W / 100, H / 100), dpi=100, facecolor='white')

ax1 = box(51, 35, 494, 480)
coast1 = list(zip(coast1_lon, coast1_lat))
ax1.add_patch(PathPatch(round_outline(coast1, [(278.5, 43.95), (278.5, 44.25)]), facecolor=LAND, edgecolor='none'))
ax1.plot(track1_lon, track1_lat, ls='none', marker='o', ms=1.8, color='#333333', mew=0)
ax1.set_xlim(278.1, 278.5)
ax1.set_ylim(43.95, 44.25)
style_map(ax1, lon_ticks1, lat_ticks1, 10.5, 'Liberation Sans')
put_labels(ax1, map1_labels)

ax2 = box(62, 571, 490, 1058)
draw_lake_map(ax2, track2_lon, track2_lat, map2_labels)

ax3 = box(69, 1177, 499, 1641)
draw_lake_map(ax3, track3_lon, track3_lat, map3_labels)

draw_waves(box(603, 30, 815, 484), wave_a, labels_a, -2500, amp_ticks_2500)
draw_waves(box(894, 30, 1105, 484), wave_b, labels_b, -2500, amp_ticks_2500)
draw_waves(box(622, 569, 836, 1032), wave_c, labels_c, -3000, amp_ticks_3000)
draw_waves(box(915, 569, 1129, 1032), wave_d, labels_d, -3000, amp_ticks_3000)
draw_waves(box(664, 1161, 861, 1643), wave_e, labels_e, -3000, amp_ticks_3000)
draw_waves(box(934, 1161, 1131, 1643), wave_f, labels_f, -3000, amp_ticks_3000)

fig.savefig('out.png', dpi=100)
